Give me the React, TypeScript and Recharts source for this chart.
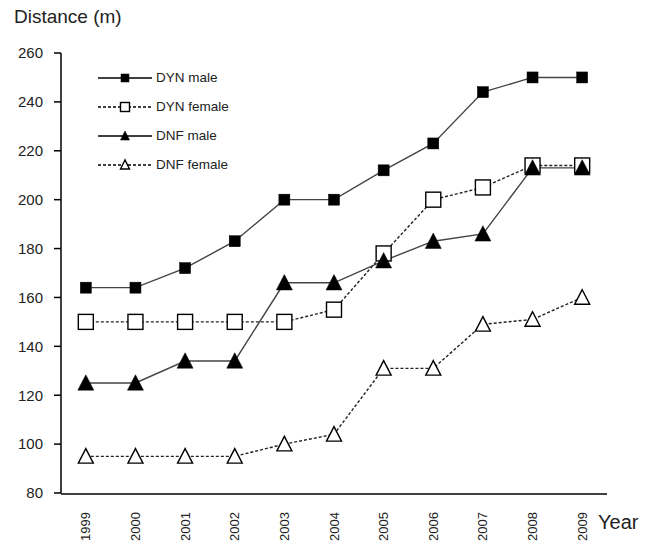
import React from "react";
import { LineChart, Line, XAxis, YAxis } from "recharts";

const years = ["1999", "2000", "2001", "2002", "2003", "2004", "2005", "2006", "2007", "2008", "2009"];
const dynMale = [164, 164, 172, 183, 200, 200, 212, 223, 244, 250, 250];
const dynFemale = [150, 150, 150, 150, 150, 155, 178, 200, 205, 214, 214];
const dnfMale = [125, 125, 134, 134, 166, 166, 175, 183, 186, 213, 213];
const dnfFemale = [95, 95, 95, 95, 100, 104, 131, 131, 149, 151, 160];
const yTicks = [80, 100, 120, 140, 160, 180, 200, 220, 240, 260];

const data = years.map((year, i) => ({
  x: i + 0.5,
  year,
  dynMale: dynMale[i],
  dynFemale: dynFemale[i],
  dnfMale: dnfMale[i],
  dnfFemale: dnfFemale[i],
}));

const FONT = "'Liberation Sans', Arial, sans-serif";

type Marker = "filledSquare" | "openSquare" | "filledTriangle" | "openTriangle";

const drawMarker = (kind: Marker, cx: number, cy: number, s: number, key?: string) => {
  if (kind === "filledSquare") {
    return <rect key={key} x={cx - s / 2} y={cy - s / 2} width={s} height={s} fill="#000" stroke="#000" strokeWidth={0.5} />;
  }
  if (kind === "openSquare") {
    return <rect key={key} x={cx - s / 2} y={cy - s / 2} width={s} height={s} fill="#fff" stroke="#000" strokeWidth={1.4} />;
  }
  const h = s * 0.9;
  const pts = `${cx},${cy - h / 2 - 1} ${cx - s / 2},${cy + h / 2} ${cx + s / 2},${cy + h / 2}`;
  if (kind === "filledTriangle") {
    return <polygon key={key} points={pts} fill="#000" stroke="#000" strokeWidth={0.5} />;
  }
  return <polygon key={key} points={pts} fill="#fff" stroke="#000" strokeWidth={1.4} />;
};

const series = [
  { key: "dynMale", name: "DYN male", marker: "filledSquare" as Marker, size: 11, legendSize: 8, dash: undefined, stroke: "#444" },
  { key: "dynFemale", name: "DYN female", marker: "openSquare" as Marker, size: 15, legendSize: 9, dash: "3 2", stroke: "#222" },
  { key: "dnfMale", name: "DNF male", marker: "filledTriangle" as Marker, size: 16, legendSize: 9, dash: undefined, stroke: "#444" },
  { key: "dnfFemale", name: "DNF female", marker: "openTriangle" as Marker, size: 15, legendSize: 9, dash: "3 2", stroke: "#222" },
];

// year labels sit between the boundary tick marks, rotated to read upwards
const YearTick = (props: any) => {
  const { x, y, payload } = props;
  const label = years[Math.floor(payload.value)];
  const ty = y + 11;
  return (
    <text
      x={x}
      y={ty}
      transform={`rotate(-90, ${x}, ${ty})`}
      textAnchor="end"
      dominantBaseline="central"
      fontSize={13}
      fill="#222"
      fontFamily={FONT}
    >
      {label}
    </text>
  );
};

const App = () => {
  return (
    <div style={{ position: "relative", width: 651, height: 544, fontFamily: FONT, background: "#fff" }}>
      <style>{`body{margin:0;}`}</style>
      <div style={{ position: "absolute", left: 14, top: 6, fontSize: 19, color: "#222" }}>Distance (m)</div>
      <div style={{ position: "absolute", left: 598, top: 511, fontSize: 20, color: "#222" }}>Year</div>
      <LineChart width={651} height={544} data={data} margin={{ top: 53, right: 44, bottom: 49, left: 11 }}>
        <XAxis
          xAxisId="marks"
          dataKey="x"
          type="number"
          domain={[0, 11]}
          ticks={years.map((_, i) => i).concat([years.length])}
          interval={0}
          tick={false}
          tickSize={5}
          height={1}
          stroke="#000"
          strokeWidth={1.5}
        />
        <XAxis
          xAxisId="main"
          dataKey="x"
          type="number"
          domain={[0, 11]}
          ticks={years.map((_, i) => i + 0.5)}
          tick={(p: any) => <YearTick {...p} />}
          tickLine={false}
          axisLine={false}
          height={1}
          interval={0}
        />
        <YAxis
          domain={[80, 260]}
          ticks={yTicks}
          interval={0}
          width={50}
          tickSize={7}
          tickMargin={11}
          stroke="#000"
          strokeWidth={1.5}
          tick={{ fontSize: 15, fill: "#222", fontFamily: FONT }}
        />
        {series.map((s) => (
          <Line
            key={s.key}
            xAxisId="main"
            type="linear"
            dataKey={s.key}
            name={s.name}
            stroke={s.stroke}
            strokeWidth={1.4}
            strokeDasharray={s.dash}
            isAnimationActive={false}
            dot={(p: any) => drawMarker(s.marker, p.cx, p.cy, s.size, `${s.key}-${p.index}`)}
            activeDot={false}
          />
        ))}
      </LineChart>
      <div style={{ position: "absolute", left: 97, top: 63 }}>
        {series.map((s) => (
          <div key={s.key} style={{ display: "flex", alignItems: "center", height: 29 }}>
            <svg width={56} height={20}>
              <line x1={1} y1={10} x2={55} y2={10} stroke="#000" strokeWidth={1.3} strokeDasharray={s.dash} />
              {drawMarker(s.marker, 28, 10, s.legendSize)}
            </svg>
            <span style={{ fontSize: 13.5, color: "#222", marginLeft: 3 }}>{s.name}</span>
          </div>
        ))}
      </div>
    </div>
  );
};

export default App;
